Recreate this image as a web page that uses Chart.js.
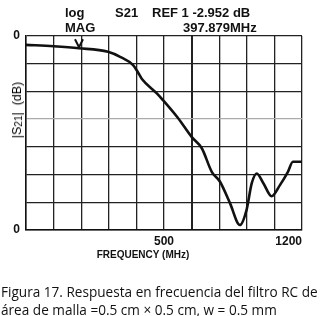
<!DOCTYPE html>
<html>
<head>
<meta charset="utf-8">
<script src="https://cdn.jsdelivr.net/npm/chart.js@4.4.1/dist/chart.umd.min.js"></script>
<style>
  body { margin: 0; background: #fff; width: 323px; height: 316px; overflow: hidden; position: relative; font-family: "Liberation Sans", Arial, sans-serif; }
  #wrap { position: absolute; left: 0; top: 0; width: 323px; height: 316px; }
  .hdr { position: absolute; font-weight: bold; font-size: 13px; color: #111; white-space: nowrap; line-height: 13px; }
  #ytitle { position: absolute; left: 17px; top: 110px; transform: translate(-50%, -50%) rotate(-90deg); font-size: 12.5px; white-space: nowrap; color: #000; }
  #ytitle sub { font-size: 10px; vertical-align: -1px; }
  #xtitle { position: absolute; left: 143px; top: 254px; transform: translate(-50%, -50%); font-size: 10px; font-weight: bold; white-space: nowrap; color: #111; }
  #caption { position: absolute; left: 1px; top: 283px; font-family: "Open Sans", sans-serif; font-size: 13.6px; line-height: 18px; color: #111; white-space: nowrap; }
</style>
</head>
<body>
<div id="wrap"><canvas id="chart" width="323" height="316"></canvas></div>
<div class="hdr" style="left:65px; top:6px;">log</div>
<div class="hdr" style="left:65px; top:21px;">MAG</div>
<div class="hdr" style="left:115px; top:6px;">S21</div>
<div class="hdr" style="left:152px; top:6px;">REF 1 -2.952 dB</div>
<div class="hdr" style="left:183px; top:21px;">397.879MHz</div>
<div id="ytitle">|S<sub>21</sub>|&nbsp;&nbsp;(dB)</div>
<div id="xtitle">FREQUENCY (MHz)</div>
<div id="caption">Figura 17. Respuesta en frecuencia del filtro RC de<br>área de malla =0.5 cm × 0.5 cm, w = 0.5 mm</div>

<script>
// Trace, in grid divisions
// (x: 0..10 divisions, y: 0 at top reference line, -7 at bottom)
const freqDiv = [0, 1.0, 1.92, 2.97, 3.41, 3.88, 4.05, 4.20, 4.74, 4.96, 5.5, 6.0, 6.37, 6.73, 7.03, 7.39, 7.75, 7.99, 8.18, 8.36, 8.60, 8.90, 9.20, 9.49, 9.67, 10];
const magDiv  = [-0.32, -0.37, -0.44, -0.57, -0.75, -1.05, -1.30, -1.55, -2.07, -2.31, -2.95, -3.64, -4.05, -4.90, -5.26, -6.03, -6.82, -6.28, -5.31, -4.96, -5.31, -5.78, -5.38, -4.90, -4.54, -4.54];

// Axis tick labels by division index
const xTickLabels = ['', '', '', '', '', '500', '', '', '', '', '1200'];
const yTickLabels = { '0': '0', '-7': '0' };

// Marker position (division units)
const markerX = 1.92;
const markerY = -0.44;

const traceData = freqDiv.map((x, i) => ({ x: x, y: magDiv[i] }));

// Draw the "V" marker above the trace at the marker position
const markerPlugin = {
    id: 'marker',
    afterDatasetsDraw(chart) {
        const ctx = chart.ctx;
        const px = chart.scales.x.getPixelForValue(markerX);
        const py = chart.scales.y.getPixelForValue(markerY);
        ctx.save();
        ctx.strokeStyle = '#111';
        ctx.lineWidth = 2;
        ctx.beginPath();
        ctx.moveTo(px - 4, py - 9);
        ctx.lineTo(px, py - 1);
        ctx.lineTo(px + 4, py - 9);
        ctx.stroke();
        ctx.restore();
    }
};

const ctx = document.getElementById('chart').getContext('2d');
new Chart(ctx, {
    type: 'line',
    data: {
        datasets: [{
            data: traceData,
            borderColor: '#111',
            borderWidth: 2.6,
            pointRadius: 0,
            fill: false,
            tension: 0.35,
            cubicInterpolationMode: 'monotone'
        }]
    },
    options: {
        responsive: false,
        animation: false,
        events: [],
        layout: { padding: { left: 0, top: 36, right: 21, bottom: 0 } },
        plugins: { legend: { display: false }, tooltip: { enabled: false } },
        scales: {
            x: {
                type: 'linear',
                min: 0,
                max: 10,
                afterFit: (scale) => { scale.height = 86; },
                afterBuildTicks: (scale) => {
                    scale.ticks = xTickLabels.map((_, i) => ({ value: i }));
                },
                ticks: {
                    align: 'inner',
                    autoSkip: false,
                    maxRotation: 0,
                    minRotation: 0,
                    padding: 4,
                    color: '#111',
                    font: { family: 'Liberation Sans', size: 12, weight: 'bold' },
                    callback: (v, i) => xTickLabels[i]
                },
                grid: {
                    drawTicks: false,
                    color: '#222',
                    lineWidth: (c) => c.index === 6 ? 2 : 1.3
                },
                border: { display: true, color: '#111', width: 1.5 }
            },
            y: {
                type: 'linear',
                min: -7,
                max: 0,
                afterFit: (scale) => { scale.width = 26; },
                afterBuildTicks: (scale) => {
                    const t = [];
                    for (let v = -7; v <= 0; v++) t.push({ value: v });
                    scale.ticks = t;
                },
                ticks: {
                    padding: 6,
                    autoSkip: false,
                    color: '#111',
                    font: { family: 'Liberation Sans', size: 12, weight: 'bold' },
                    callback: (v) => yTickLabels[String(v)] || ''
                },
                grid: {
                    drawTicks: false,
                    color: (c) => c.tick && c.tick.value === -3 ? '#aaa' : '#222',
                    lineWidth: 1.3
                },
                border: { display: true, color: '#111', width: 1.5 }
            }
        }
    },
    plugins: [markerPlugin]
});
</script>
</body>
</html>
